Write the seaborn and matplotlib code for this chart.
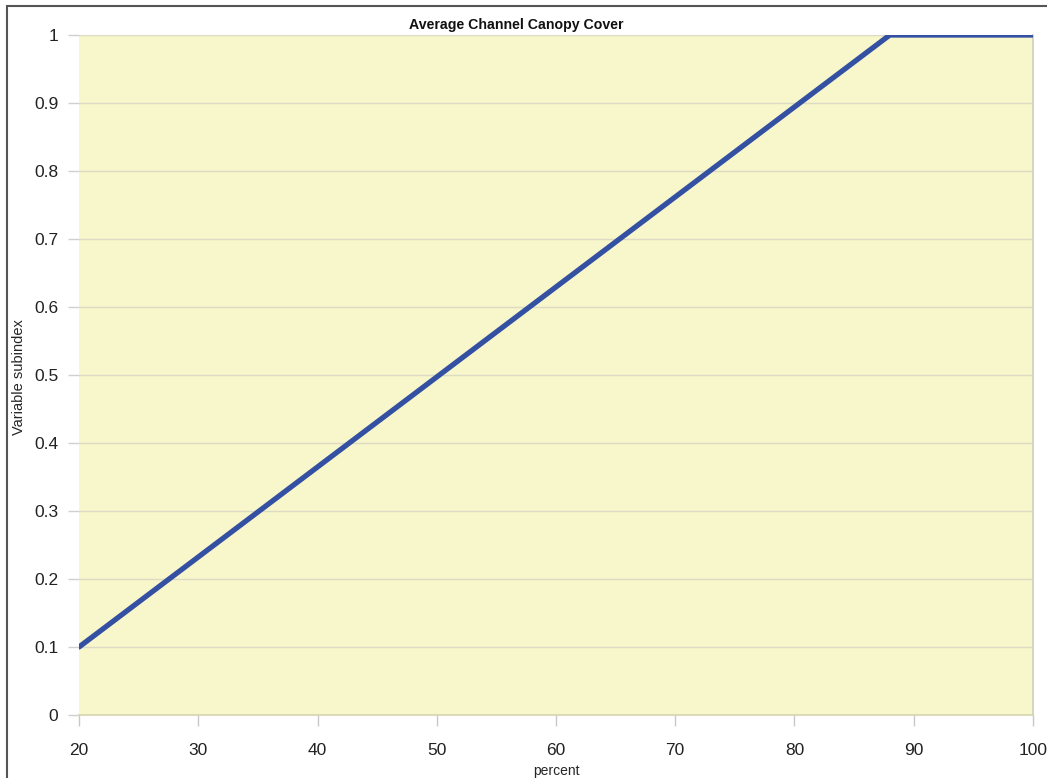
import pandas as pd
import matplotlib.pyplot as plt
import matplotlib.patches as mpatches
import seaborn as sns

# ==============================================================================
# DADOS
# ==============================================================================
percent = [20, 88, 100]
subindex = [0.1, 1.0, 1.0]
x_ticks = [20, 30, 40, 50, 60, 70, 80, 90, 100]
y_ticks = [0, 0.1, 0.2, 0.3, 0.4, 0.5, 0.6, 0.7, 0.8, 0.9, 1]
y_labels = ["0", "0.1", "0.2", "0.3", "0.4", "0.5", "0.6", "0.7", "0.8", "0.9", "1"]

sns.set_theme(style="white")
plt.rcParams['font.family'] = ['Liberation Sans', 'DejaVu Sans']

df = pd.DataFrame({'percent': percent, 'subindex': subindex})

fig = plt.figure(figsize=(10.47, 7.78), dpi=100)
ax = fig.add_axes([0.0755, 0.081, 0.911, 0.874])
ax.set_facecolor('#F8F6CB')

# moldura da figura (cortada à direita e em baixo)
fig.patches.append(mpatches.Rectangle((0.0067, -0.05), 1.2, 1.0423, transform=fig.transFigure,
                                      fill=False, edgecolor='#555555', linewidth=1.5))

for y in y_ticks[1:]:
    ax.axhline(y, color='#DCDCC4', linewidth=1, zorder=1)

sns.lineplot(data=df, x='percent', y='subindex', color='#3450A2', linewidth=3.8,
             solid_capstyle='round', ax=ax, zorder=3)

ax.set_xlim(20, 100)
ax.set_ylim(0, 1)
ax.set_xticks(x_ticks)
ax.set_yticks(y_ticks)
ax.set_yticklabels(y_labels)
ax.tick_params(axis='both', bottom=True, left=True, labelsize=12.5, length=8, width=1)
ax.tick_params(axis='x', color='#C8C8C8', pad=12)
ax.tick_params(axis='y', color='#D0D0D0', pad=7)
for lbl in ax.get_xticklabels() + ax.get_yticklabels():
    lbl.set_color('#222222')

for side in ['top', 'left']:
    ax.spines[side].set_visible(False)
ax.spines['bottom'].set_color('#D6D4B0')
ax.spines['right'].set_color('#D0D0C0')
ax.spines['bottom'].set_linewidth(1.2)

fig.text(0.493, 0.9685, 'Average Channel Canopy Cover', fontsize=10.2, fontweight='bold',
         ha='center', va='center', color='#111111')
ax.set_xlabel('percent', fontsize=10)
ax.set_ylabel('Variable subindex', fontsize=10.5)
ax.xaxis.set_label_coords(0.5, -0.0715)
ax.yaxis.set_label_coords(-0.0556, 0.497)

plt.savefig('out.png', dpi=100)
plt.close()
